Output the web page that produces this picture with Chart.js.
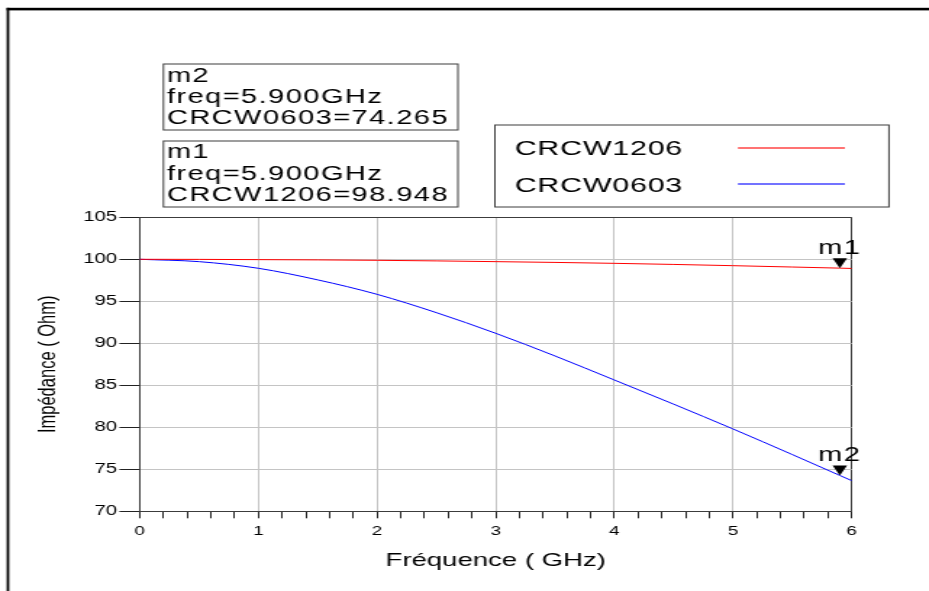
<!DOCTYPE html>
<html>
<head>
<meta charset="utf-8">
<script src="https://cdn.jsdelivr.net/npm/chart.js@4.4.1/dist/chart.umd.min.js"></script>
<style>
  html, body { margin: 0; padding: 0; background: #fff; overflow: hidden; }
  #wrap { width: 929px; height: 591px; overflow: hidden; }
  /* the original screenshot is stretched sideways, so the canvas is too */
  #plot { display: block; background: #fff; transform: scaleX(1.4493); transform-origin: 0 0; }
</style>
</head>
<body>
<div id="wrap"><canvas id="plot" width="641" height="591"></canvas></div>
<script>
// Data
const freqGHz   = [0, 0.5, 1, 1.5, 2, 2.5, 3, 3.5, 4, 4.5, 5, 5.5, 5.9, 6];
const zCrcw1206 = [100, 99.99, 99.96, 99.93, 99.88, 99.81, 99.72, 99.63, 99.52, 99.39, 99.24, 99.08, 98.948, 98.91];
const zCrcw0603 = [100, 99.72, 98.93, 97.55, 95.83, 93.65, 91.19, 88.49, 85.63, 82.75, 79.8, 76.75, 74.265, 73.65];
const seriesNames  = ["CRCW1206", "CRCW0603"];
const seriesColors = ["#ff0000", "#0000ff"];

// markers m1 / m2
const markerNames  = ["m1", "m2"];
const markerSeries = [0, 1];
const markerFreq   = [5.9, 5.9];
const markerValues = [98.948, 74.265];

const FONT = "'Liberation Sans', Arial, sans-serif";
const DARK = "#3c3c3c";
const LIGHT = "#c4c4c4";

Chart.defaults.font.family = FONT;
Chart.defaults.color = "#000";

const isWhole = v => Math.abs(v - Math.round(v)) < 1e-6;

function toPoints(ys) {
    return freqGHz.map((f, i) => ({ x: f, y: ys[i] }));
}

function spacedText(ctx, text, x, y, spacing) {
    ctx.save();
    ctx.letterSpacing = spacing;
    ctx.fillText(text, x, y);
    ctx.restore();
}

const notesPlugin = {
    id: "notes",
    afterDraw(chart) {
        const ctx = chart.ctx;
        const xs = chart.scales.x;
        const ys = chart.scales.y;
        ctx.save();

        // outer frame (top + left)
        ctx.fillStyle = "#000";
        ctx.fillRect(4.6, 7.8, chart.width, 2.6);
        ctx.fillRect(4.6, 7.8, 1.8, chart.height);

        // marker readout boxes, m2 on top then m1
        const boxes = [
            { m: 1, top: 64, lines: [82, 103, 124] },
            { m: 0, top: 141, lines: [158, 179.5, 201] }
        ];
        ctx.strokeStyle = DARK;
        ctx.lineWidth = 1;
        ctx.fillStyle = "#000";
        ctx.font = "20px " + FONT;
        ctx.textBaseline = "alphabetic";
        ctx.textAlign = "left";
        boxes.forEach(b => {
            ctx.strokeRect(112.8, b.top, 203.2, 66);
            const s = markerSeries[b.m];
            const rows = [
                markerNames[b.m],
                "freq=" + markerFreq[b.m].toFixed(3) + "GHz",
                seriesNames[s] + "=" + markerValues[b.m].toFixed(3)
            ];
            rows.forEach((t, i) => spacedText(ctx, t, 115.2, b.lines[i], "1px"));
        });

        // legend box
        ctx.strokeRect(341.5, 125, 271.9, 82);
        ctx.font = "21px " + FONT;
        const legendRows = [{ text: 155, line: 148 }, { text: 192, line: 184 }];
        chart.data.datasets.forEach((ds, i) => {
            ctx.fillStyle = "#000";
            spacedText(ctx, ds.label, 355.2, legendRows[i].text, "0.5px");
            ctx.strokeStyle = ds.borderColor;
            ctx.globalAlpha = 0.55;
            ctx.lineWidth = 2;
            ctx.beginPath();
            ctx.moveTo(509.2, legendRows[i].line);
            ctx.lineTo(583, legendRows[i].line);
            ctx.stroke();
            ctx.globalAlpha = 1;
        });
        ctx.strokeStyle = DARK;
        ctx.lineWidth = 1;

        // marker triangles with their names
        ctx.fillStyle = "#000";
        ctx.font = "20px " + FONT;
        ctx.textAlign = "center";
        markerNames.forEach((name, i) => {
            const px = xs.getPixelForValue(markerFreq[i]);
            const py = ys.getPixelForValue(markerValues[i]);
            ctx.beginPath();
            ctx.moveTo(px, py);
            ctx.lineTo(px - 5, py - 10);
            ctx.lineTo(px + 5, py - 10);
            ctx.closePath();
            ctx.fill();
            spacedText(ctx, name, px, py - 14, "1px");
        });

        ctx.restore();
    }
};

new Chart("plot", {
    type: "line",
    data: {
        datasets: [
            {
                label: seriesNames[0],
                data: toPoints(zCrcw1206),
                borderColor: seriesColors[0],
                borderWidth: 1,
                pointRadius: 0,
                cubicInterpolationMode: "monotone"
            },
            {
                label: seriesNames[1],
                data: toPoints(zCrcw0603),
                borderColor: seriesColors[1],
                borderWidth: 1,
                pointRadius: 0,
                cubicInterpolationMode: "monotone"
            }
        ]
    },
    options: {
        responsive: false,
        animation: false,
        layout: { padding: { top: 217.3, right: 53.3, bottom: 0, left: 0 } },
        plugins: {
            legend: { display: false },
            tooltip: { enabled: false }
        },
        scales: {
            x: {
                type: "linear",
                min: 0,
                max: 6,
                ticks: {
                    stepSize: 0.2,
                    autoSkip: false,
                    maxRotation: 0,
                    padding: 5.5,
                    color: "#000",
                    font: { size: 13 },
                    callback: v => isWhole(v) ? String(Math.round(v)) : ""
                },
                grid: {
                    color: c => {
                        const v = c.tick.value;
                        if (!isWhole(v)) return "rgba(0,0,0,0)";
                        return (v === 0 || Math.round(v) === 6) ? DARK : LIGHT;
                    },
                    lineWidth: 1,
                    tickLength: 7,
                    tickColor: "#222",
                    tickWidth: 1
                },
                border: { display: true, color: DARK, width: 1 },
                title: {
                    display: true,
                    text: "Fréquence ( GHz)",
                    color: "#000",
                    font: { size: 19 },
                    padding: { top: 0, bottom: 18.6 }
                },
                afterFit: s => { s.height = 79.7; }
            },
            y: {
                min: 70,
                max: 105,
                ticks: {
                    stepSize: 5,
                    padding: 1.5,
                    color: "#000",
                    font: { size: 14 }
                },
                grid: {
                    color: c => (c.tick.value === 70 || c.tick.value === 105) ? DARK : LIGHT,
                    lineWidth: 1,
                    tickLength: 14,
                    tickColor: "#222",
                    tickWidth: 1
                },
                border: { display: true, color: DARK, width: 1 },
                title: {
                    display: true,
                    text: "Impédance ( Ohm)",
                    color: "#000",
                    font: { size: 16.5 },
                    padding: { top: 23.2, bottom: 0 }
                },
                afterFit: s => { s.width = 96.4; }
            }
        }
    },
    plugins: [notesPlugin]
});
</script>
</body>
</html>
